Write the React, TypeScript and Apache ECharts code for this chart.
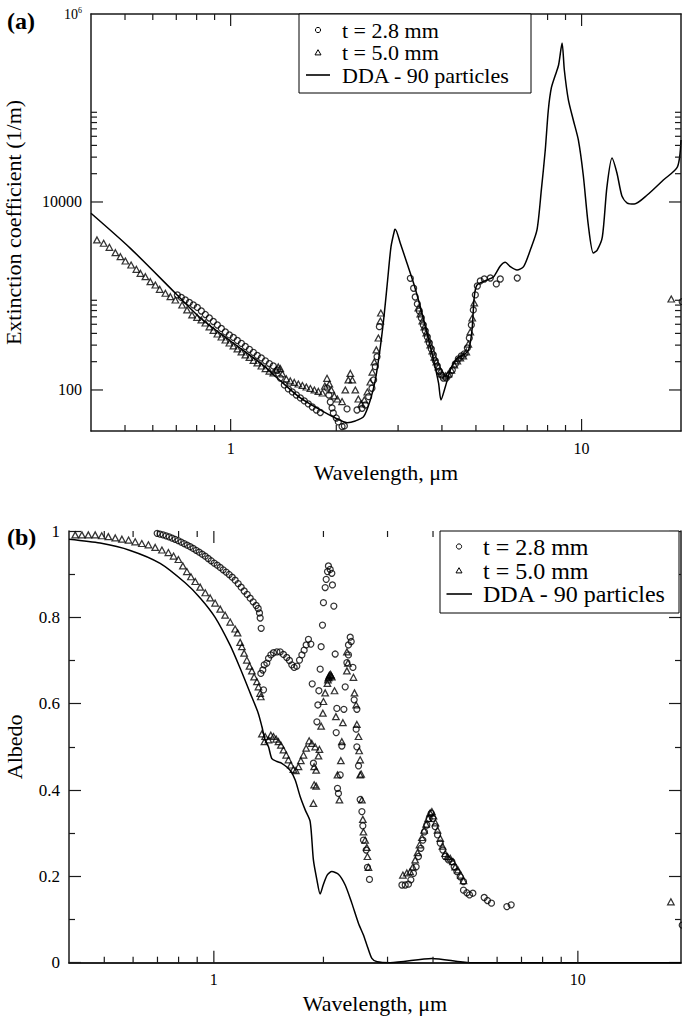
import React, { useEffect, useRef } from 'react';
import * as echarts from 'echarts';

const FONT = 'Liberation Serif';
const AXIS_FONT = 'Times New Roman';
const W = 682;
const H = 1021;

// ---------- Tick positions ----------
const xMinorTicks = [0.5, 0.6, 0.7, 0.8, 0.9, 2, 3, 4, 5, 6, 7, 8, 9];
const xMajorTicks = [1, 10];
const extMinorTicks = [200, 300, 400, 500, 600, 700, 800, 900, 20000, 30000, 40000, 50000, 60000, 70000, 80000, 90000];
const extMajorTicks = [100, 10000];
const extLabelValues = [100, 10000, 1000000];
const legendLabels = ['t = 2.8 mm', 't = 5.0 mm', 'DDA - 90 particles'];

// ---------- Panel (a): extinction coefficient (1/m) ----------
const extDDA: [number, number][] = [
  [0.4, 7590], [0.518, 3213], [0.704, 1025], [0.82, 583], [0.998, 332], [1.215, 194], [1.358, 134],
  [1.58, 82.2], [1.821, 59.8], [1.988, 50.3], [2.146, 44.9], [2.266, 46.8], [2.393, 52.0], [2.5, 78.3],
  [2.584, 127.8], [2.671, 289], [2.741, 654], [2.801, 1479], [2.864, 3342], [2.932, 5036], [2.945, 5130],
  [3.044, 3640], [3.181, 2228], [3.322, 1365], [3.471, 769], [3.627, 401], [3.787, 208], [3.913, 118],
  [3.975, 78.3], [4.091, 108.4], [4.227, 163], [4.416, 217], [4.611, 236], [4.765, 267], [4.873, 435],
  [4.946, 984], [5.035, 1309], [5.376, 1479], [5.615, 1603], [5.866, 2085], [6.062, 2285], [6.265, 2051],
  [6.546, 1892], [6.835, 2051], [7.143, 3083], [7.463, 5036], [7.68, 13430], [7.88, 35730], [8.04, 95300],
  [8.2, 163300], [8.42, 224500], [8.6, 286600], [8.8, 491000], [8.93, 253500], [9.17, 121700], [9.47, 74500],
  [9.79, 45700], [10.11, 19360], [10.45, 5690], [10.8, 2864], [11.08, 3083], [11.46, 4250], [11.81, 14450],
  [12.21, 29380], [12.61, 20370], [13.03, 11590], [13.49, 9750], [14.13, 9520], [15.38, 11860], [17.1, 17140],
  [18.75, 23550], [19.2, 45700],
];

const extT28: [number, number][] = [
  [0.705, 1025], [0.7236, 964], [0.7428, 906], [0.7627, 853], [0.783, 802], [0.8036, 755], [0.825, 692],
  [0.847, 635], [0.8695, 583], [0.8927, 535], [0.9165, 491], [0.9408, 451], [0.9658, 414], [0.9915, 385],
  [1.018, 362], [1.045, 336], [1.073, 313], [1.101, 290], [1.131, 270], [1.161, 251], [1.191, 233],
  [1.223, 219], [1.256, 204], [1.289, 191], [1.323, 180], [1.358, 163],
  [1.385, 134], [1.422, 113], [1.46, 102.5], [1.499, 95.2], [1.539, 88.4], [1.58, 82.2], [1.622, 76.4],
  [1.665, 71.0], [1.709, 65.9], [1.755, 61.2], [1.801, 57.6],
  [1.882, 105], [1.905, 88.4], [1.923, 74.5], [1.945, 64.4], [1.961, 56.9], [2.0, 50.3], [2.027, 45.7],
  [2.077, 40.8], [2.109, 41.4], [2.146, 62.8],
  [2.291, 61.2], [2.368, 63.8], [2.42, 69.2], [2.473, 84.9], [2.527, 104.3], [2.555, 127.8], [2.584, 177],
  [2.613, 226], [2.653, 471],
  [3.251, 1542], [3.322, 1208], [3.357, 975], [3.404, 822], [3.448, 692], [3.494, 583], [3.54, 491],
  [3.586, 424], [3.634, 367], [3.682, 316], [3.731, 273], [3.78, 236], [3.83, 204], [3.88, 180],
  [3.932, 159], [3.984, 144.5], [4.036, 134], [4.116, 134], [4.199, 144.5], [4.282, 163], [4.367, 189],
  [4.454, 214], [4.543, 230], [4.633, 242], [4.726, 280], [4.787, 357], [4.851, 491], [4.914, 710],
  [4.98, 1026], [5.046, 1277], [5.145, 1444], [5.282, 1516], [5.495, 1553], [5.715, 1343], [5.866, 1516],
  [6.557, 1553],
  [19.35, 869],
];

const extT50: [number, number][] = [
  [0.416, 3945], [0.4346, 3640], [0.4513, 3297], [0.4694, 2890], [0.4851, 2618], [0.5012, 2357],
  [0.5204, 2137], [0.5386, 1923], [0.5531, 1742], [0.5715, 1604], [0.5904, 1419], [0.6101, 1309],
  [0.6277, 1178], [0.6516, 1069], [0.6733, 983], [0.6958, 906], [0.7271, 802], [0.7512, 710],
  [0.7762, 628], [0.8021, 593],
  [0.825, 556], [0.847, 516], [0.8695, 468], [0.8927, 430], [0.9165, 394], [0.9408, 366], [0.9658, 340],
  [0.9915, 316], [1.018, 294], [1.045, 273], [1.073, 254], [1.101, 236], [1.131, 222], [1.161, 206],
  [1.191, 194], [1.223, 180], [1.256, 169], [1.289, 159], [1.323, 152], [1.349, 163], [1.367, 176],
  [1.385, 169], [1.404, 148], [1.441, 131], [1.479, 124.7], [1.518, 120.2], [1.559, 115.8], [1.601, 111.6],
  [1.643, 107.6], [1.687, 103.7], [1.732, 100], [1.778, 96.4], [1.826, 92.9], [1.855, 110], [1.882, 133],
  [1.911, 115.8], [1.936, 100], [1.974, 86.4], [2.014, 80.2], [2.077, 75.2], [2.122, 100], [2.164, 127.8],
  [2.193, 150], [2.222, 127.8], [2.266, 100], [2.311, 80.2], [2.357, 71], [2.404, 78.3], [2.452, 95.2],
  [2.5, 121.6], [2.533, 155], [2.567, 199], [2.601, 267], [2.636, 357], [2.671, 542], [2.679, 659],
  [3.426, 745], [3.471, 644], [3.517, 542], [3.563, 468], [3.61, 404], [3.658, 349], [3.706, 301],
  [3.755, 260], [3.805, 224], [3.855, 199], [3.906, 176], [3.958, 159], [4.01, 148], [4.091, 141],
  [4.172, 148], [4.255, 163], [4.339, 185], [4.425, 204], [4.513, 219], [4.603, 230], [4.694, 254],
  [4.756, 308], [4.818, 414], [4.881, 583], [4.946, 843],
  [18.01, 929],
];

// ---------- Panel (b): albedo ----------
const albDDA: [number, number][] = [
  [0.4, 0.981], [0.487, 0.972], [0.589, 0.955], [0.712, 0.925], [0.834, 0.88], [0.917, 0.845], [1.008, 0.8],
  [1.109, 0.735], [1.181, 0.682], [1.258, 0.625], [1.324, 0.578], [1.355, 0.547], [1.383, 0.516],
  [1.413, 0.5], [1.443, 0.473], [1.49, 0.466], [1.537, 0.462], [1.62, 0.446], [1.673, 0.423], [1.726, 0.385],
  [1.782, 0.354], [1.839, 0.327], [1.877, 0.238], [1.919, 0.192], [1.959, 0.159], [1.997, 0.18],
  [2.048, 0.203], [2.109, 0.211], [2.199, 0.205], [2.295, 0.18], [2.393, 0.138], [2.497, 0.091],
  [2.576, 0.064], [2.642, 0.037], [2.717, 0.01], [2.81, 0.002], [3.05, 0], [3.971, 0.01], [5.059, 0],
  [19.2, 0],
];

const albT28: [number, number][] = [
  [0.6987, 0.9945], [0.7117, 0.9928], [0.7256, 0.991], [0.7396, 0.9887], [0.7537, 0.9863], [0.768, 0.9835],
  [0.7829, 0.9808], [0.7979, 0.9778], [0.8132, 0.9743], [0.8287, 0.9708], [0.8447, 0.9671], [0.8608, 0.9636],
  [0.8773, 0.9595], [0.8941, 0.9553], [0.9112, 0.9509], [0.9288, 0.9463], [0.9465, 0.9416], [0.9645, 0.9363],
  [0.9831, 0.931], [1.0019, 0.9256], [1.0212, 0.9208], [1.0406, 0.9155], [1.0605, 0.9101], [1.0809, 0.9048],
  [1.1016, 0.8992], [1.1228, 0.893], [1.1442, 0.886], [1.1662, 0.8782], [1.1885, 0.8698], [1.2113, 0.861],
  [1.2346, 0.8531], [1.2582, 0.8443], [1.2823, 0.836], [1.3068, 0.8274], [1.3235, 0.8205], [1.3346, 0.8101],
  [1.3404, 0.7985], [1.3489, 0.7746],
  [1.346, 0.67], [1.369, 0.632], [1.363, 0.678], [1.375, 0.69], [1.398, 0.694], [1.413, 0.705], [1.434, 0.713],
  [1.458, 0.718], [1.49, 0.72], [1.521, 0.72], [1.553, 0.714], [1.586, 0.707], [1.613, 0.7], [1.637, 0.69],
  [1.662, 0.684], [1.69, 0.687], [1.719, 0.701], [1.745, 0.713], [1.77, 0.724], [1.793, 0.736], [1.819, 0.749],
  [1.847, 0.738],
  [1.863, 0.646], [1.943, 0.63], [1.931, 0.597], [1.919, 0.558], [1.877, 0.462], [1.959, 0.68], [1.971, 0.732],
  [1.988, 0.782], [2.0, 0.834], [2.022, 0.869], [2.035, 0.888], [2.052, 0.906], [2.064, 0.919], [2.087, 0.911],
  [2.109, 0.902], [2.117, 0.875], [2.136, 0.826], [2.154, 0.715], [2.168, 0.533], [2.177, 0.589], [2.276, 0.587],
  [2.295, 0.639], [2.247, 0.502], [2.223, 0.435], [2.186, 0.404], [2.199, 0.392], [2.369, 0.754], [2.384, 0.744],
  [2.343, 0.736], [2.343, 0.713], [2.32, 0.695], [2.41, 0.684], [2.429, 0.609], [2.471, 0.587], [2.46, 0.541],
  [2.471, 0.5], [2.497, 0.456], [2.523, 0.378], [2.551, 0.35], [2.566, 0.317], [2.576, 0.284], [2.621, 0.261],
  [2.642, 0.221], [2.676, 0.193],
  [3.286, 0.18], [3.355, 0.18], [3.424, 0.182], [3.477, 0.192], [3.535, 0.207], [3.595, 0.222], [3.648, 0.246],
  [3.704, 0.265], [3.751, 0.284], [3.79, 0.303], [3.847, 0.319], [3.904, 0.334], [3.954, 0.346], [3.996, 0.334],
  [4.055, 0.315], [4.116, 0.296], [4.187, 0.277], [4.258, 0.261], [4.32, 0.246], [4.411, 0.238], [4.506, 0.234],
  [4.573, 0.222], [4.651, 0.211], [4.749, 0.199], [4.85, 0.188], [4.85, 0.168], [4.955, 0.162], [5.038, 0.157],
  [5.147, 0.161], [5.529, 0.151], [5.645, 0.144], [5.789, 0.138], [6.381, 0.13], [6.558, 0.134],
  [19.35, 0.087],
];

const albT50: [number, number][] = [
  [0.416, 0.991], [0.434, 0.991], [0.452, 0.991], [0.472, 0.991], [0.492, 0.989], [0.513, 0.987], [0.536, 0.984],
  [0.559, 0.981], [0.583, 0.979], [0.608, 0.975], [0.634, 0.971], [0.661, 0.968], [0.69, 0.962], [0.72, 0.956],
  [0.75, 0.95], [0.775, 0.942], [0.799, 0.934], [0.822, 0.919], [0.843, 0.906], [0.865, 0.894], [0.889, 0.883],
  [0.917, 0.87], [0.947, 0.857], [0.977, 0.845], [1.008, 0.833], [1.041, 0.819], [1.074, 0.805], [1.109, 0.789],
  [1.144, 0.773], [1.162, 0.764], [1.181, 0.742], [1.194, 0.732], [1.211, 0.717], [1.232, 0.701], [1.253, 0.687],
  [1.272, 0.676], [1.29, 0.662], [1.313, 0.651], [1.326, 0.639], [1.34, 0.624], [1.346, 0.616],
  [1.355, 0.53], [1.377, 0.512], [1.383, 0.524], [1.413, 0.516], [1.434, 0.527], [1.458, 0.524], [1.483, 0.518],
  [1.505, 0.512], [1.528, 0.504], [1.553, 0.493], [1.58, 0.481], [1.603, 0.47], [1.627, 0.458], [1.654, 0.448],
  [1.68, 0.445], [1.708, 0.454], [1.734, 0.468], [1.763, 0.481], [1.793, 0.497], [1.827, 0.514], [1.858, 0.508],
  [1.898, 0.5], [1.95, 0.494], [1.938, 0.479], [1.91, 0.446], [1.886, 0.454], [1.91, 0.409], [1.886, 0.412],
  [1.877, 0.369],
  [2.022, 0.625], [2.0, 0.605], [1.993, 0.578], [1.971, 0.548], [2.051, 0.647], [2.058, 0.655], [2.064, 0.66],
  [2.07, 0.662], [2.077, 0.666], [2.09, 0.668], [2.1, 0.665], [2.109, 0.662], [2.145, 0.63], [2.164, 0.57],
  [2.233, 0.468], [2.186, 0.435], [2.262, 0.556], [2.247, 0.512], [2.32, 0.72], [2.335, 0.694], [2.32, 0.676],
  [2.418, 0.661], [2.434, 0.625], [2.46, 0.597], [2.471, 0.552], [2.497, 0.524], [2.507, 0.491], [2.523, 0.47],
  [2.539, 0.437], [2.213, 0.377], [2.523, 0.435], [2.551, 0.377], [2.566, 0.332], [2.576, 0.303], [2.604, 0.284],
  [2.632, 0.267], [2.642, 0.246], [2.659, 0.221],
  [3.306, 0.203], [3.39, 0.208], [3.462, 0.211], [3.522, 0.222], [3.573, 0.238], [3.626, 0.255], [3.672, 0.273],
  [3.728, 0.29], [3.781, 0.307], [3.83, 0.321], [3.88, 0.334], [3.929, 0.347], [3.971, 0.35], [4.011, 0.34],
  [4.062, 0.324], [4.116, 0.307], [4.187, 0.288], [4.246, 0.27], [4.32, 0.253], [4.384, 0.246], [4.46, 0.242],
  [4.537, 0.234], [4.602, 0.222], [4.681, 0.215], [4.771, 0.203], [4.85, 0.19],
  [18.01, 0.141],
];

// ---------- helpers ----------
const AXIS_COLOR = '#1a1a1a';

function tickData(xMinor: number[], xMajor: number[], yMinor: number[], yMajor: number[]) {
  const d: number[][] = [];
  xMinor.forEach((v) => d.push([v, 6, 0]));
  xMajor.forEach((v) => d.push([v, 12, 0]));
  yMinor.forEach((v) => d.push([v, 6, 1]));
  yMajor.forEach((v) => d.push([v, 12, 1]));
  return d;
}

function tickSeries(xAxisIndex: number, yAxisIndex: number, data: number[][], xRef: number, yRef: number) {
  return {
    type: 'custom',
    xAxisIndex,
    yAxisIndex,
    silent: true,
    z: 5,
    data,
    renderItem: (params: any, api: any) => {
      const cs = params.coordSys;
      const v = api.value(0);
      const len = api.value(1);
      const ax = api.value(2);
      const style = { stroke: AXIS_COLOR, lineWidth: 1.2 };
      if (ax === 0) {
        const px = api.coord([v, yRef])[0];
        const yb = cs.y + cs.height;
        const yt = cs.y;
        return {
          type: 'group',
          children: [
            { type: 'line', shape: { x1: px, y1: yb, x2: px, y2: yb - len }, style },
            { type: 'line', shape: { x1: px, y1: yt, x2: px, y2: yt + len }, style },
          ],
        };
      }
      const py = api.coord([xRef, v])[1];
      const xl = cs.x;
      const xr = cs.x + cs.width;
      return {
        type: 'group',
        children: [
          { type: 'line', shape: { x1: xl, y1: py, x2: xl + len, y2: py }, style },
          { type: 'line', shape: { x1: xr, y1: py, x2: xr - len, y2: py }, style },
        ],
      };
    },
  };
}

function legendGraphic(
  bx: number, by: number, bw: number, bh: number,
  rows: number[], symX: number, lx1: number, lx2: number, tx: number, fs: number,
) {
  const stroke = { stroke: '#000', lineWidth: 1 };
  return [
    { type: 'rect', z: 100, shape: { x: bx, y: by, width: bw, height: bh }, style: { fill: '#fff', ...stroke } },
    { type: 'circle', z: 101, shape: { cx: symX, cy: rows[0], r: 2.6 }, style: { fill: '#fff', ...stroke } },
    {
      type: 'polygon', z: 101,
      shape: { points: [[symX, rows[1] - 2.8], [symX + 3, rows[1] + 2.4], [symX - 3, rows[1] + 2.4]] },
      style: { fill: '#fff', ...stroke },
    },
    { type: 'line', z: 101, shape: { x1: lx1, y1: rows[2], x2: lx2, y2: rows[2] }, style: { stroke: '#000', lineWidth: 1.6 } },
    ...legendLabels.map((t, i) => ({
      type: 'text', z: 101, x: tx, y: rows[i],
      style: { text: t, fontFamily: FONT, fontSize: fs, fill: '#000', verticalAlign: 'middle', align: 'left' },
    })),
  ];
}

const markerStyle = { color: 'transparent', borderColor: '#000', borderWidth: 1.25 };

function buildOption(): any {
  const xLog = (gridIndex: number, position: string, labels: boolean, fs: number) => ({
    type: 'log',
    gridIndex,
    position,
    min: 0.4,
    max: 19.2,
    logBase: 10,
    axisLine: { show: true, lineStyle: { color: AXIS_COLOR, width: 1.5 } },
    axisTick: { show: false },
    splitLine: { show: false },
    minorTick: { show: false },
    axisLabel: labels
      ? {
          show: true,
          fontFamily: AXIS_FONT,
          fontSize: fs,
          color: '#000',
          margin: 9,
          formatter: (v: number) => (Math.abs(v - 1) < 1e-9 ? '1' : Math.abs(v - 10) < 1e-8 ? '10' : ''),
        }
      : { show: false },
    name: labels ? 'Wavelength, μm' : '',
    nameLocation: 'middle',
    nameGap: 30,
    nameTextStyle: { fontFamily: AXIS_FONT, fontSize: 22, color: '#000' },
  });

  return {
    animation: false,
    backgroundColor: '#fff',
    grid: [
      { left: 91, top: 14, width: 590, height: 417, containLabel: false, outerBoundsMode: 'none' },
      { left: 69, top: 531, width: 612, height: 431.7, containLabel: false, outerBoundsMode: 'none' },
    ],
    xAxis: [xLog(0, 'bottom', true, 16), xLog(0, 'top', false, 16), xLog(1, 'bottom', true, 16), xLog(1, 'top', false, 16)],
    yAxis: [
      {
        type: 'log',
        gridIndex: 0,
        position: 'left',
        min: 36.6,
        max: 1000000,
        logBase: 10,
        axisLine: { show: true, lineStyle: { color: AXIS_COLOR, width: 1.5 } },
        axisTick: { show: false },
        splitLine: { show: false },
        axisLabel: {
          show: true,
          fontFamily: AXIS_FONT,
          fontSize: 16,
          color: '#000',
          margin: 9,
          formatter: (v: number) => {
            const l = Math.log10(v);
            const e = Math.round(l);
            if (Math.abs(l - e) > 1e-6) return '';
            if (!extLabelValues.includes(Math.pow(10, e))) return '';
            if (e === 6) return '{b|10}{s|6}';
            return String(Math.pow(10, e));
          },
          rich: {
            b: { fontFamily: AXIS_FONT, fontSize: 14, color: '#000' },
            s: { fontFamily: AXIS_FONT, fontSize: 8, color: '#000', padding: [0, 0, 8, 0] },
          },
        },
        name: 'Extinction coefficient (1/m)',
        nameLocation: 'middle',
        nameGap: 67,
        nameTextStyle: { fontFamily: AXIS_FONT, fontSize: 22, color: '#000' },
      },
      {
        type: 'log',
        gridIndex: 0,
        position: 'right',
        min: 36.6,
        max: 1000000,
        logBase: 10,
        axisLine: { show: true, lineStyle: { color: AXIS_COLOR, width: 1.5 } },
        axisTick: { show: false },
        splitLine: { show: false },
        axisLabel: { show: false },
      },
      {
        type: 'value',
        gridIndex: 1,
        position: 'left',
        min: 0,
        max: 1,
        interval: 0.2,
        axisLine: { show: true, lineStyle: { color: AXIS_COLOR, width: 1.5 } },
        axisTick: { show: true, inside: true, length: 12, lineStyle: { color: AXIS_COLOR, width: 1.2 } },
        minorTick: { show: true, splitNumber: 2, length: 6, lineStyle: { color: AXIS_COLOR, width: 1.2 } },
        splitLine: { show: false },
        axisLabel: { show: true, fontFamily: AXIS_FONT, fontSize: 17, color: '#000', margin: 9 },
        name: 'Albedo',
        nameLocation: 'middle',
        nameGap: 44,
        nameTextStyle: { fontFamily: AXIS_FONT, fontSize: 22, color: '#000' },
      },
      {
        type: 'value',
        gridIndex: 1,
        position: 'right',
        min: 0,
        max: 1,
        interval: 0.2,
        axisLine: { show: true, lineStyle: { color: AXIS_COLOR, width: 1.5 } },
        axisTick: { show: true, inside: true, length: 12, lineStyle: { color: AXIS_COLOR, width: 1.2 } },
        minorTick: { show: true, splitNumber: 2, length: 6, lineStyle: { color: AXIS_COLOR, width: 1.2 } },
        splitLine: { show: false },
        axisLabel: { show: false },
      },
    ],
    series: [
      tickSeries(0, 0, tickData(xMinorTicks, xMajorTicks, extMinorTicks, extMajorTicks), 0.4, 36.6),
      tickSeries(2, 2, tickData(xMinorTicks, xMajorTicks, [], []), 0.4, 0),
      {
        name: legendLabels[2], type: 'line', xAxisIndex: 0, yAxisIndex: 0, data: extDDA,
        showSymbol: false, symbol: 'none', smooth: 0.25, lineStyle: { color: '#000', width: 1.5 }, z: 3,
      },
      {
        name: legendLabels[0], type: 'scatter', xAxisIndex: 0, yAxisIndex: 0, data: extT28,
        symbol: 'circle', symbolSize: 6, itemStyle: markerStyle, clip: false, z: 4,
      },
      {
        name: legendLabels[1], type: 'scatter', xAxisIndex: 0, yAxisIndex: 0, data: extT50,
        symbol: 'triangle', symbolSize: [6.5, 6], itemStyle: markerStyle, clip: false, z: 4,
      },
      {
        name: legendLabels[2] + ' ', type: 'line', xAxisIndex: 2, yAxisIndex: 2, data: albDDA,
        showSymbol: false, symbol: 'none', smooth: 0.25, lineStyle: { color: '#000', width: 1.5 }, z: 3,
      },
      {
        name: legendLabels[0] + ' ', type: 'scatter', xAxisIndex: 2, yAxisIndex: 2, data: albT28,
        symbol: 'circle', symbolSize: 6, itemStyle: markerStyle, clip: false, z: 4,
      },
      {
        name: legendLabels[1] + ' ', type: 'scatter', xAxisIndex: 2, yAxisIndex: 2, data: albT50,
        symbol: 'triangle', symbolSize: [6.5, 6], itemStyle: markerStyle, clip: false, z: 4,
      },
    ],
    graphic: [
      {
        type: 'text', z: 100, x: 7, y: 21,
        style: { text: '(a)', fontFamily: FONT, fontSize: 24, fontWeight: 'bold', fill: '#000', verticalAlign: 'middle' },
      },
      {
        type: 'text', z: 100, x: 7, y: 537,
        style: { text: '(b)', fontFamily: FONT, fontSize: 24, fontWeight: 'bold', fill: '#000', verticalAlign: 'middle' },
      },
      ...legendGraphic(299, 14, 232, 79, [30, 52.5, 75], 318, 306, 330, 342, 22),
      ...legendGraphic(440, 531, 239, 82, [546.5, 570.5, 594], 459, 446.5, 472, 483, 24),
    ],
  };
}

export default function App() {
  const ref = useRef<HTMLDivElement>(null);
  useEffect(() => {
    document.body.style.margin = '0';
    const chart = echarts.init(ref.current!, null, { renderer: 'svg', width: W, height: H });
    chart.setOption(buildOption());
    return () => chart.dispose();
  }, []);
  return <div ref={ref} style={{ width: W, height: H, overflow: 'hidden' }} />;
}
